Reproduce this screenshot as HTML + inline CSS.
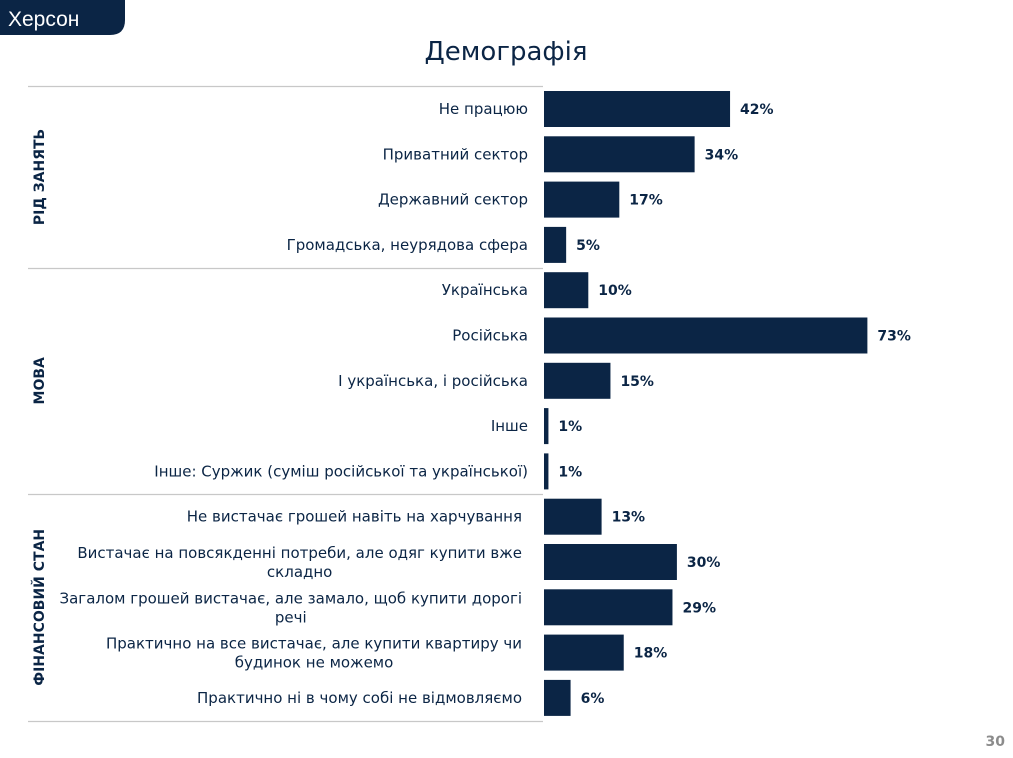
<!DOCTYPE html>
<html><head><meta charset="utf-8"><style>
body{margin:0;background:#fff;}
svg{display:block;font-family:"DejaVu Sans","Liberation Sans",sans-serif;}
</style></head><body>
<svg width="1013" height="758" viewBox="0 0 1013 758">
<path d="M0 0H125V20Q125 35 110 35H0Z" fill="#0b2545"/>
<text x="8" y="26" font-size="21" fill="#fff" font-family="Liberation Sans, sans-serif">Херсон</text>
<text x="506" y="60" font-size="26" fill="#0b2545" text-anchor="middle">Демографія</text>
<text x="1005" y="746" font-size="14" font-weight="bold" fill="#8c8c8c" text-anchor="end">30</text>
<g id="chart"></g>
</svg>
<script>
const labels = [["Не працюю"],["Приватний сектор"],["Державний сектор"],["Громадська, неурядова сфера"],["Українська"],["Російська"],["І українська, і російська"],["Інше"],["Інше: Суржик (суміш російської та української)"],["Не вистачає грошей навіть на харчування"],["Вистачає на повсякденні потреби, але одяг купити вже","складно"],["Загалом грошей вистачає, але замало, щоб купити дорогі","речі"],["Практично на все вистачає, але купити квартиру чи","будинок не можемо"],["Практично ні в чому собі не відмовляємо"]];
const values = [42,34,17,5,10,73,15,1,1,13,30,29,18,6];
const groups = ["РІД ЗАНЯТЬ","МОВА","ФІНАНСОВИЙ СТАН"];
const groupStarts = [0,4,9];
const NS="http://www.w3.org/2000/svg";
const g=document.getElementById('chart');
const x0=544, pxPer=4.43, y0=109, step=45.3, bh=36;
const xs=v=>x0+v*pxPer, yc=i=>y0+i*step;
function el(t,a){const e=document.createElementNS(NS,t);for(const k in a)e.setAttribute(k,a[k]);g.appendChild(e);return e;}
const bounds=[0,4,9,14];
bounds.forEach((b,i)=>{
  const y=Math.round(yc(b)-step/2)+0.5;
  const l=el('line',{x1:28,x2:543,y1:y,y2:y,stroke:'#c8c8c8','stroke-width':1.2});
  
  
});
groups.forEach((name,i)=>{
  const s=groupStarts[i], e=(i<2?groupStarts[i+1]:14)-1;
  const cy=(yc(s)+yc(e))/2;
  const t=el('text',{x:0,y:0,transform:`translate(44 ${cy}) rotate(-90)`,'font-size':14,'font-weight':'bold','fill':'#0b2545','text-anchor':'middle'});
  t.textContent=name;
  
  
});
values.forEach((v,i)=>{
  const c=yc(i);
  const r=el('rect',{x:x0,y:c-bh/2,width:Math.max(v*pxPer,2),height:bh,fill:'#0b2545'});
  
  
  const vt=el('text',{x:xs(v)+10,y:c+5,'font-size':14,'font-weight':'bold',fill:'#0b2545'});
  vt.textContent=v+'%';
  
  
  const lb=labels[i];
  if(lb.length===1){
    const t=el('text',{x:i>=9?522:528,y:c+5,'font-size':15,fill:'#0b2545','text-anchor':'end'});
    t.textContent=lb[0];
    
    
  } else {
    const t=el('text',{x:522,y:c-4,'font-size':15,fill:'#0b2545','text-anchor':'end'});
    t.textContent=lb[0];
    
    
    const w=t.getComputedTextLength();
    const t2=el('text',{x:522-w/2,y:c+15,'font-size':15,fill:'#0b2545','text-anchor':'middle'});
    t2.textContent=lb[1];
    
    
  }
});
</script>
</body></html>
